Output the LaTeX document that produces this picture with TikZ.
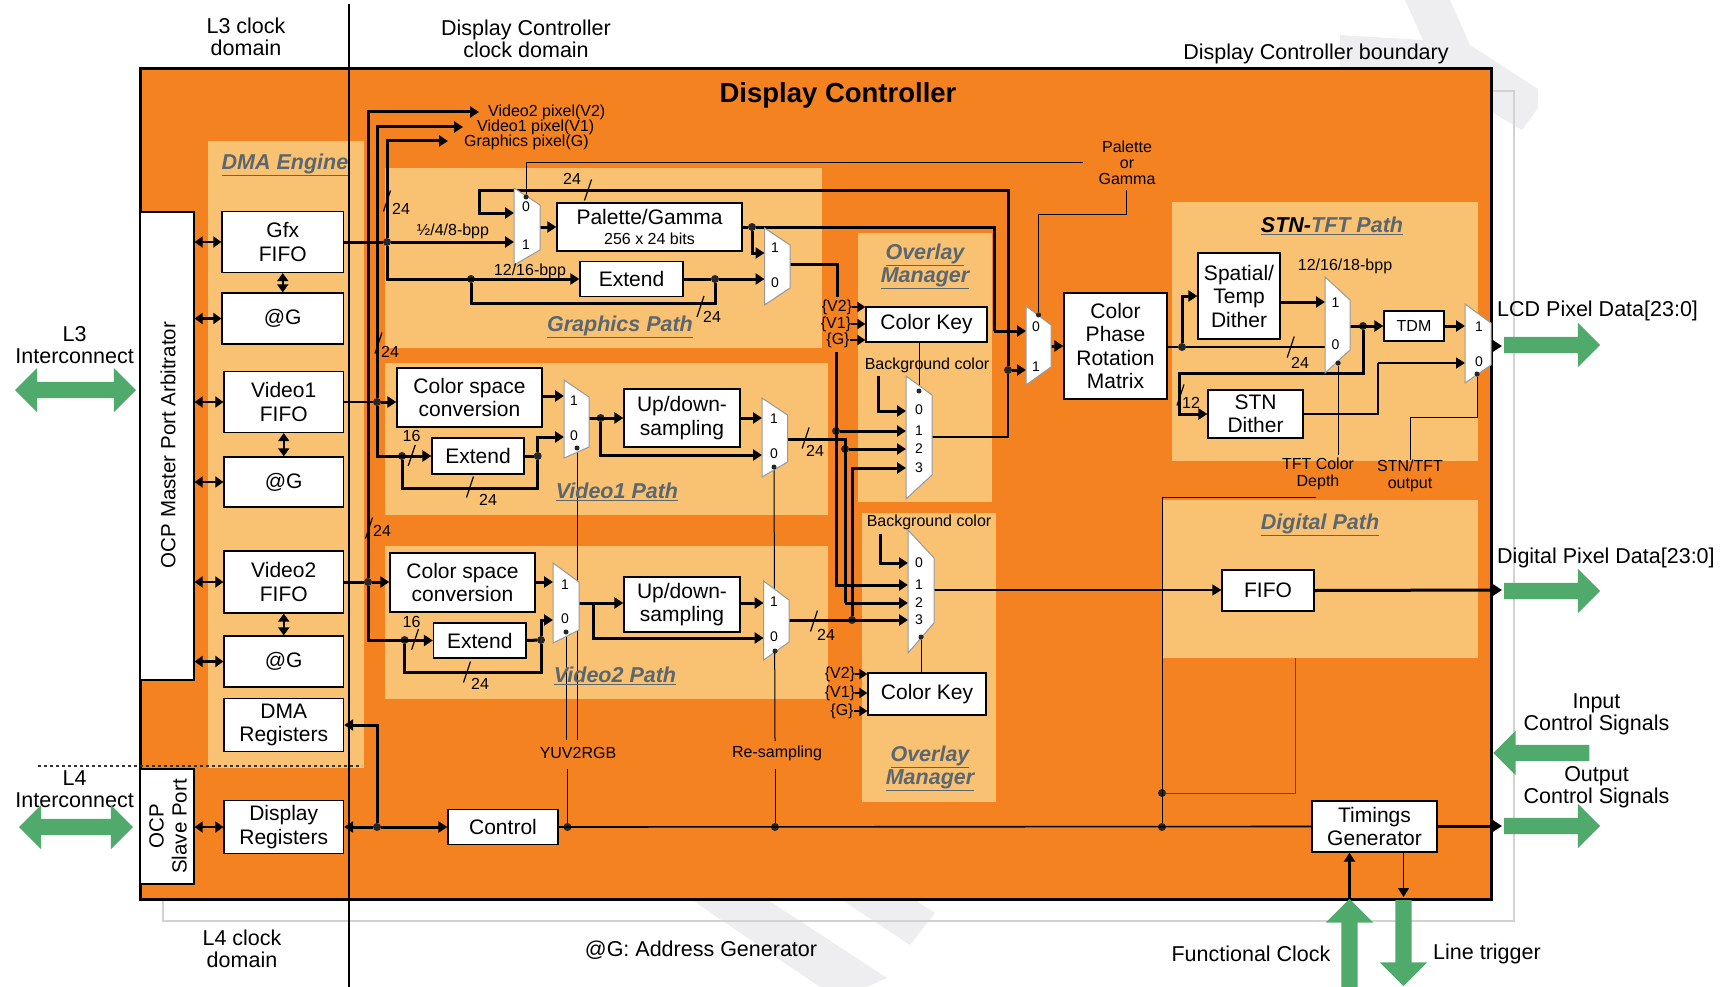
\documentclass[tikz,border=0pt]{standalone}
\usepackage{fontspec}
\setmainfont{Liberation Sans}
\usepackage{xcolor}
\usetikzlibrary{arrows.meta,shapes.arrows}
\definecolor{Panel}{HTML}{F58220}
\definecolor{Soft}{HTML}{F9C272}
\definecolor{Leaf}{HTML}{4FAA6C}
\definecolor{Ghost}{HTML}{EEEDEF}
\definecolor{Frame}{HTML}{D2D2D2}
\definecolor{Slate}{HTML}{5A6670}
\definecolor{Rust}{HTML}{7A4210}
\tikzset{
  blk/.style={draw,line width=1.3pt,fill=white,align=center,inner sep=0pt,font=\fontsize{21}{23.5}\selectfont},
  lab/.style={align=center,inner sep=0pt,font=\fontsize{21.5}{22}\selectfont},
  sml/.style={align=center,inner sep=0pt,font=\fontsize{16}{17}\selectfont},
  pin/.style={inner sep=0pt,font=\fontsize{14}{15}\selectfont},
  ttl/.style={align=center,inner sep=0pt,text=Slate,font=\fontsize{21.5}{23}\selectfont\bfseries\itshape},
  bus/.style={line width=3pt},
  wire/.style={line width=1.6pt},
  ctl/.style={line width=1pt},
  tip/.style={-{Triangle[length=9pt,width=11pt]}},
  dbl/.style={{Triangle[length=8pt,width=11pt]}-{Triangle[length=8pt,width=11pt]},line width=2.4pt},
  junc/.style={circle,fill=black!85,inner sep=0pt,minimum size=8pt},
  sdot/.style={circle,fill=black!85,inner sep=0pt,minimum size=5pt},
  muxb/.style={draw=black!40,line width=1pt,fill=white},
  big/.style={single arrow,fill=Leaf,inner xsep=0pt,inner ysep=8pt,outer sep=0pt,single arrow head extend=14pt},
  bigd/.style={double arrow,fill=Leaf,inner xsep=0pt,inner ysep=8pt,outer sep=0pt,double arrow head extend=14pt},
}
\begin{document}
\begin{tikzpicture}[x=1pt,y=-1pt]
  \useasboundingbox (0,0) rectangle (1720,987);
  % watermark and outer frame
  \fill[Ghost] (1405,0) -- (1450,0) -- (1470,45) -- (1538,89) -- (1538,108) -- (1522,130) -- (1480,105) -- (1480,75) -- (1340,75) -- (1340,35) -- (1423,40) -- cycle;
  \fill[Ghost] (692,900) -- (768,900) -- (887,978) -- (867,987) -- (820,987) -- cycle;
  \fill[Ghost] (842,900) -- (915,900) -- (935,913) -- (910,945) -- cycle;
  \draw[Frame,line width=2.5pt] (163,91) rectangle (1514,921);
  \draw[Panel,fill=Panel] (140,69) rectangle (1491,899);
  \draw[line width=3pt] (140,69) rectangle (1491,899);
  % soft panels
  \foreach \xa/\ya/\xb/\yb in {208/141/364/768, 385/168/822/348, 385/363/828/515, 385/546/828/699,
    858/233/992/502, 862/513/996/802, 1172/202/1478/461, 1162/500/1478/658} {
    \fill[Soft] (\xa,\ya) rectangle (\xb,\yb);
  }
  \draw[line width=1.2pt] (349,4) -- (349,987);
  \draw[black!80,dashed,line width=1.5pt] (38,766) -- (362,766);

  % boxes
  \foreach \n/\x/\y/\w/\h/\t in {
    gfxf/282.75/242/121.5/61/{Gfx\\FIFO}, agga/282.75/318.5/121.5/51/{@G},
    vida/283.75/402/119.5/61/{Video1\\FIFO}, aggb/283.75/482/119.5/50/{@G},
    vidb/283.75/582/119.5/62/{Video2\\FIFO}, aggc/283.75/661.5/119.5/51/{@G},
    dmar/283.75/725/119.5/53/{DMA\\Registers}, disp/283.75/827/119.5/53/{Display\\Registers},
    ctrl/503/827/110/35/{Control},
    pal/649.5/227/185/48/{Palette/Gamma\\[-3pt]{\fontsize{16}{17}\selectfont 256 x 24 bits}},
    extg/631.5/279/103/35/{Extend},
    csa/469.5/397.5/145/59/{Color space\\conversion}, exta/478/456/92/36/{Extend},
    uda/682/418/116/58/{Up/down-\\sampling},
    csb/462.5/582.5/145/59/{Color space\\conversion}, extb/479.75/640.5/92.5/35/{Extend},
    udb/682/604.5/116/55/{Up/down-\\sampling},
    cka/926.5/324.5/121/35/{Color Key}, ckb/927/694/118/42/{Color Key},
    cprm/1115.5/346/103/106/{Color\\Phase\\Rotation\\Matrix},
    spat/1239/296/82/86/{Spatial/\\Temp\\Dither}, stnd/1255.5/414/95/48/{STN\\Dither},
    fifo/1268/590.5/92/41/{FIFO}, tims/1374.5/826.5/125/51/{Timings\\Generator}} {
    \node[blk,minimum width=\w pt,minimum height=\h pt] (\n) at (\x,\y) {\t};
  }
  \node[blk,minimum width=60pt,minimum height=30pt,font=\fontsize{16}{17}\selectfont] (tdm) at (1414,326) {TDM};
  \node[blk,minimum width=54pt,minimum height=468pt] (ocpm) at (167,446) {};
  \node[blk,minimum width=54pt,minimum height=115pt] (ocps) at (167,826.5) {};
  \node[lab,rotate=90,font=\fontsize{20.5}{23}\selectfont] (ocpt) at (168,445) {OCP Master Port Arbitrator};
  \node[lab,rotate=90,font=\fontsize{20.5}{23}\selectfont] (slvt) at (168,826.5) {OCP\\Slave Port};

  % mux pins and wire corners
  \foreach \n/\x/\y in {mxaz/514/213, mxaa/514/242, mxao/540/227, mxba/764.5/253, mxbz/764.5/279, mxbo/790/264,
    mxca/564/396, mxcz/564/437, mxco/589/418, mxda/762/418, mxdz/762/455, mxdo/787.5/439,
    mxea/553/582, mxez/553/620, mxeo/579/603, mxfa/763.6/603, mxfz/763.6/638, mxfo/789/620,
    mxgz/906/411, mxga/906/431, mxgb/906/449, mxgc/906/468, mxgo/932/437,
    mxhz/908/563, mxha/908/585, mxhb/908/603, mxhc/908/620, mxho/934/590,
    mxkz/1026/331, mxka/1026/370, mxko/1051/346, mxma/1325/302, mxmz/1325/347, mxmo/1350/326,
    mxna/1465/326, mxnz/1465/363, mxno/1491/346,
    pixg/448/141, pixa/463/127, pixb/479/112, cpal/994/331, cfbk/479/191, cvtop/837/297,
    cgrp/836/352, cvia/845/603, cbga/878/376, cbgb/880/534, cgam/1083/163, cgmb/1126/190,
    cstn/1179.5/373, cdth/1378/363, clcd/1502/346, cdig/1502/590, cout/1502/826,
    ctfa/1338/455, ctfb/1316/497, cdgb/1295.6/658, csta/1410/417, cstb/1410/460,
    cybt/567.5/769, cybb/566/740, cyba/577/740, crst/775/769, crsb/775/741,
    cclk/1349.5/899, clin/1403.5/897, cmsb/593.7/603} {
    \coordinate (\n) at (\x,\y);
  }
  % junction dots
  \foreach \n/\x/\y in {jgfx/387/242, jgxl/471/279, jgxr/715/279, jpal/752/227, jvao/377/402, jvxl/402/456, jvxr/537.7/456,
    jvam/600.6/418, jvbo/368/582, jwxl/404.6/640, jwxr/541/640, jga/836/431, jvb/845/449, jwc/852/620,
    jpfb/1008/370, jcpr/1182/347, jtdm/1363/326, jreg/377/827, jyuv/567.5/827, jres/775/827, jdga/1162/827, jdgb/1162/793} {
    \node[junc] (\n) at (\x,\y) {};
  }
  \foreach \n/\x/\y in {spal/526/197, sva/577/448, svb/774/467, swa/566/632, swb/775/651, soa/919/391, sob/921/637,
    skm/1038.5/315, stf/1338/363, sso/1477/374} {
    \node[sdot] (\n) at (\x,\y) {};
  }

  % graphics path
  \draw[bus,tip] (jgfx) |- (pixg);
  \draw[bus] (gfxf.east) -- (jgfx);
  \draw[bus,tip] (jgfx) -- (mxaa);
  \draw[bus,tip] (jgfx) |- (extg.west);
  \draw[bus] (jgxl) -- ++(0,24) -| (jgxr);
  \draw[bus] (extg.east) -- (jgxr);
  \draw[bus,tip] (jgxr) -- (mxbz);
  \draw[bus,tip] (mxao) -- (pal.west |- mxao);
  \draw[bus] (pal.east |- jpal) -- (jpal);
  \draw[bus] (jpal) -| (cpal);
  \draw[bus,tip] (cpal) -- (mxkz);
  \draw[bus,tip] (jpal) |- (mxba);
  \draw[bus] (mxbo) -| (cvtop);
  \draw[bus,tip] (jpfb) |- (cfbk) |- (mxaz);
  \draw[bus,tip] (jpfb) -- (mxka);
  \draw[wire] (mxgo) -| (jpfb);
  % video1 path
  \draw[bus,tip] (jvao) |- (pixa);
  \draw[wire] (vida.east) -- (jvao);
  \draw[bus,tip] (jvao) -- (csa.west |- jvao);
  \draw[bus,tip] (jvao) |- (exta.west);
  \draw[bus] (jvxl) -- ++(0,32) -| (jvxr);
  \draw[bus] (exta.east) -- (jvxr);
  \draw[bus,tip] (jvxr) |- (mxcz);
  \draw[bus,tip] (csa.east |- mxca) -- (mxca);
  \draw[bus,tip] (mxco) -- (uda.west |- mxco);
  \draw[bus,tip] (jvam) |- (mxdz);
  \draw[bus,tip] (uda.east |- mxda) -- (mxda);
  % video2 path
  \draw[bus,tip] (jvbo) |- (pixb);
  \draw[bus] (vidb.east) -- (jvbo);
  \draw[bus,tip] (jvbo) -- (csb.west |- jvbo);
  \draw[bus,tip] (jvbo) |- (extb.west);
  \draw[bus] (jwxl) -- ++(0,32) -| (jwxr);
  \draw[bus] (extb.east) -- (jwxr);
  \draw[bus,tip] (jwxr) |- (mxez);
  \draw[bus,tip] (csb.east |- mxea) -- (mxea);
  \draw[bus,tip] (mxeo) -- (udb.west |- mxeo);
  \draw[bus,tip] (cmsb) |- (mxfz);
  \draw[bus,tip] (udb.east |- mxfa) -- (mxfa);
  % overlay inputs
  \draw[bus] (mxdo) -| (cvia);
  \draw[bus,tip] (cvia) -- (mxhb);
  \draw[bus,tip] (jvb) -- (mxgb);
  \draw[bus,tip] (cgrp) |- (mxha);
  \draw[bus,tip] (jga) -- (mxga);
  \draw[bus,tip] (mxfo) -- (mxhc);
  \draw[bus,tip] (jwc) |- (mxgc);
  \draw[bus,tip] (cbga) |- (mxgz);
  \draw[bus,tip] (cbgb) |- (mxhz);
  \draw[ctl] (cka.south -| soa) -- (soa);
  \draw[ctl] (ckb.north -| sob) -- (sob);
  \draw[wire,tip] (mxho) -- (fifo.west |- mxho);
  \draw[bus,tip] (fifo.east) -- (cdig);
  % palette or gamma select
  \draw[ctl] (spal) |- (cgam);
  \draw[ctl] (cgmb) -- ++(0,24) -| (skm);
  % stn-tft path
  \draw[bus,tip] (mxko) -- (cprm.west |- mxko);
  \draw[wire] (cprm.east |- jcpr) -- (jcpr) -- (mxmz);
  \draw[bus,tip] (jcpr) |- (spat.west);
  \draw[bus,tip] (spat.east |- mxma) -- (mxma);
  \draw[bus,tip] (mxmo) -- (tdm.west);
  \draw[bus,tip] (jtdm) |- (cstn) |- (stnd.west);
  \draw[bus,tip] (tdm.east) -- (mxna);
  \draw[wire] (stnd.east) -| (cdth);
  \draw[wire,tip] (cdth) -- (mxnz);
  \draw[bus,tip] (mxno) -- (clcd);
  \draw[ctl] (stf) -- (ctfa);
  \draw[ctl] (ctfb) -| (jdga);
  \draw[Rust,ctl] (jdgb) -| (cdgb);
  \draw[ctl] (sso) |- (csta) -- (cstb);
  % control and timing
  \draw[wire] (ctrl.east) -- (tims.west);
  \draw[ctl] (jyuv) -- (cybt);
  \draw[ctl] (cybb) -- (swa);
  \draw[ctl] (cyba) -- (sva);
  \draw[ctl] (jres) -- (crst);
  \draw[ctl] (crsb) -- (svb);
  \draw[bus,tip] (jreg) |- (dmar.east);
  \draw[bus,tip] (jreg) -- (disp.east);
  \draw[bus,tip] (jreg) -- (ctrl.west);
  \draw[bus,tip] (tims.east |- cout) -- (cout);
  \draw[wire,line width=2.2pt,tip] (cclk) -- (tims.south -| cclk);
  \draw[wire,tip] (tims.south -| clin) -- (clin);
  % port arrows
  \foreach \n in {gfxf,agga,vida,aggb,vidb,aggc} {
    \draw[dbl] (ocpm.east |- \n) -- (\n.west);
  }
  \draw[dbl] (ocps.east |- disp) -- (disp.west);
  \draw[dbl] (gfxf.south) -- (agga.north);
  \draw[dbl] (vida.south) -- (aggb.north);
  \draw[dbl] (vidb.south) -- (aggc.north);

  % muxes
  \foreach \xa/\xb/\ya/\yb/\yc/\yd in {514/540/188/265/205/250, 764.5/790/228/305/245/288, 564/589/380/458/397/447,
    762/787.5/398/477/415/462, 553/579/563/643/582/630, 763.6/789/581/660/600/642, 906/932/376/499/395/475,
    908/934/530/653/558/623, 1026/1051/306/385/325/367, 1325/1350/277/373/300/350, 1465/1491/304/383/323/365} {
    \draw[muxb] (\xa,\ya) -- (\xb,\yc) -- (\xb,\yd) -- (\xa,\yb) -- cycle;
  }
  \foreach \n/\x/\y/\t in {pa/526/207/0, pb/526/245/1, pc/775/248/1, pd/775/283/0, pe/574/401/1, pf/574/436/0,
    pg/774/419/1, ph/774/454/0, pi/565/585/1, pj/565/619/0, pk/774/602/1, pl/774/637/0,
    pm/919/410/0, pn/919/431/1, po/919/449/2, pp/919/468/3, pq/919/563/0, pr/919/585/1, ps/919/603/2, pt/919/620/3,
    pu/1036/327/0, pv/1036/367/1, pw/1335.5/303/1, px/1335.5/345/0, py/1479/327/1, pz/1479/362/0} {
    \node[pin] (\n) at (\x,\y) {\t};
  }
  % redraw dots that sit on muxes
  \foreach \n in {spal,sva,svb,swa,swb,soa,sob,skm,stf,sso} {
    \fill[black!85] (\n) circle (2.5pt);
  }

  % bus width marks
  \foreach \x/\y/\t/\lx/\ly [count=\i] in {387/201/24/401/209, 378.5/343/24/390/352, 369/528/24/382/531,
    588/190/24/572/179, 700.5/306.5/24/712/317, 805.6/438/24/815/451, 411.7/455.5/16/411.5/436, 470/487/24/488/500,
    415/639.5/16/411.5/622, 467/672/24/480/684, 814/621/24/826/635, 1290.7/347/24/1300/363, 1180.5/395/12/1191/403} {
    \draw[line width=1.2pt] (\x-3.5,\y+10.5) -- (\x+3.5,\y-10.5);
    \node[sml] (mark\i) at (\lx,\ly) {\t};
  }
  % small labels
  \foreach \n/\x/\y/\t in {lvga/837/307/{\{V2\}}, lvaa/836/324/{\{V1\}}, lgra/838/340/{\{G\}},
    lvgb/840/674/{\{V2\}}, lvab/840/693/{\{V1\}}, lgrb/842/711/{\{G\}},
    lbga/927/365/{Background color}, lbgb/929/522/{Background color},
    lpal/1127/163/{Palette\\[-1pt]or\\[-1pt]Gamma}, lbpp/1345/266/{12/16/18-bpp},
    lsub/453/231/{½/4/8-bpp}, lsuc/530/271/{12/16-bpp},
    ltft/1318/474/{TFT Color\\Depth}, lsto/1410/476/{STN/TFT\\output},
    lyuv/578/753/{YUV2RGB}, lrsm/777/753/{Re-sampling}} {
    \node[sml] (\n) at (\x,\y) {\t};
  }
  \foreach \n/\x/\y/\t in {lpxb/488/112/{Video2 pixel(V2)}, lpxa/477/127/{Video1 pixel(V1)}, lpxg/464/142/{Graphics pixel(G)}} {
    \node[sml,anchor=west] (\n) at (\x,\y) {\t};
  }
  \foreach \l/\n in {lvga/cka,lvaa/cka,lgra/cka,lvgb/ckb,lvab/ckb,lgrb/ckb} {
    \draw[line width=2pt,-{Triangle[length=8pt,width=10pt]}] (\l.east) -- (\n.west |- \l);
  }

  % titles
  \node[lab,font=\fontsize{27.5}{30}\selectfont\bfseries] (tmain) at (838,95) {Display Controller};
  \foreach \n/\x/\y/\t in {tdma/285/165/{\underline{DMA Engine}}, tgfx/620/327/{\underline{Graphics Path}},
    tvda/617/492/{\underline{Video1 Path}}, tvdb/615/676/{\underline{Video2 Path}},
    tova/925/266/{\underline{Overlay}\\\underline{Manager}}, tovb/930/768/{\underline{Overlay}\\\underline{Manager}},
    tstn/1332/226/{\underline{{\color{black}STN-}TFT Path}}, tdig/1320/525/{\underline{Digital Path}}} {
    \node[ttl] (\n) at (\x,\y) {\t};
  }
  % outer labels
  \foreach \n/\x/\y/\t in {ltl/246/37/{L3 clock\\domain}, ldc/526/39/{Display Controller\\clock domain},
    lbd/1316/54/{Display Controller boundary}, lli/74.6/345/{L3\\Interconnect}, lle/74.6/789/{L4\\Interconnect},
    lic/1596.5/714/{Input\\Control Signals}, loc/1596.5/787/{Output\\Control Signals},
    lfk/1251/954/{Functional Clock}, ltr/1487/954/{Line trigger}, lag/701/950/{@G: Address Generator},
    lfl/242/949/{L4 clock\\domain}} {
    \node[lab] (\n) at (\x,\y) {\t};
  }
  \node[lab,anchor=west] (lcd) at (1497,311) {LCD Pixel Data[23:0]};
  \node[lab,anchor=west] (dig) at (1497,558) {Digital Pixel Data[23:0]};

  % green arrows
  \node[bigd,minimum height=121pt] (ginl) at (75.5,390) {};
  \node[bigd,minimum height=114pt] (gine) at (76,827) {};
  \node[big,minimum height=96pt] (glcd) at (1548,345) {};
  \node[big,minimum height=96pt] (gdig) at (1548,591) {};
  \node[big,minimum height=96pt,rotate=180] (gcin) at (1545.5,753) {};
  \node[big,minimum height=96pt] (gcou) at (1548,826) {};
  \node[big,single arrow head extend=15.5pt,minimum height=88pt,rotate=90] (gclk) at (1349.5,947) {};
  \node[big,single arrow head extend=15.5pt,minimum height=86pt,rotate=-90] (glin) at (1403.5,939) {};
\end{tikzpicture}
\end{document}
